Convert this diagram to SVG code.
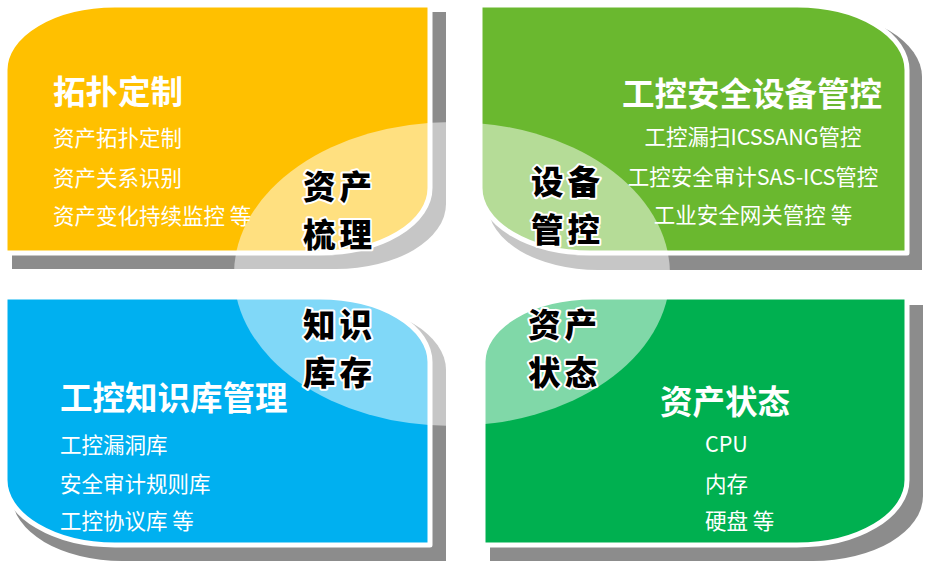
<svg xmlns="http://www.w3.org/2000/svg" width="925" height="562" viewBox="0 0 925 562">
<style>
.sh{fill:#8c8c8c}
.pn{stroke:#ffffff;stroke-width:5;stroke-linejoin:round}
text{font-family:"Noto Sans CJK SC","Microsoft YaHei",sans-serif;dominant-baseline:central}
.tt{fill:#ffffff;font-size:32.5px;font-weight:700}
.it{fill:#ffffff;font-size:21.5px;font-weight:400}
.ov{fill:#000000;font-size:32.5px;letter-spacing:4px;font-weight:900;stroke:#ffffff;stroke-width:4;paint-order:stroke;stroke-linejoin:round}
</style>
<rect width="925" height="562" fill="#ffffff"/>
<g id="panel-topology">
<path class="sh" d="M12,77 A110,65 0 0 1 122,12 L446,12 L446,204 A110,65 0 0 1 336,269 L12,269 Z"/>
<path class="pn" fill="#FFC000" d="M5,70 A110,65 0 0 1 115,5 L430,5 L430,188 A110,65 0 0 1 320,253 L5,253 Z"/>
</g>
<g id="panel-device">
<path class="sh" d="M488,12 L812,12 A110,65 0 0 1 922,77 L922,270 L598,270 A110,65 0 0 1 488,205 Z"/>
<path class="pn" fill="#6AB82F" d="M480,5 L797,5 A110,65 0 0 1 907,70 L907,253 L590,253 A110,65 0 0 1 480,188 Z"/>
</g>
<g id="panel-knowledge">
<path class="sh" d="M12,305 L336,305 A110,65 0 0 1 446,370 L446,561 L122,561 A110,65 0 0 1 12,496 Z"/>
<path class="pn" fill="#00B0F0" d="M5,297 L320,297 A110,65 0 0 1 430,362 L430,545 L115,545 A110,65 0 0 1 5,480 Z"/>
</g>
<g id="panel-status">
<path class="sh" d="M490,370 A110,65 0 0 1 600,305 L923,305 L923,496 A110,65 0 0 1 813,561 L490,561 Z"/>
<path class="pn" fill="#00B050" d="M483,362 A110,65 0 0 1 593,297 L907,297 L907,480 A110,65 0 0 1 797,545 L483,545 Z"/>
</g>
<g id="center-overlay">
<ellipse cx="452" cy="274" rx="218" ry="152" fill="#ffffff" fill-opacity="0.5"/>
</g>
<g id="text-topology">
<text class="tt" x="53" y="89">拓扑定制</text>
<text class="it" x="53" y="136">资产拓扑定制</text>
<text class="it" x="53" y="176">资产关系识别</text>
<text class="it" x="53" y="214">资产变化持续监控 等</text>
<text class="ov" x="303" y="184">资产</text>
<text class="ov" x="303" y="232">梳理</text>
</g>
<g id="text-device">
<text class="tt" x="622" y="91">工控安全设备管控</text>
<text class="it" x="753" y="135" text-anchor="middle">工控漏扫ICSSANG管控</text>
<text class="it" x="753" y="175" text-anchor="middle">工控安全审计SAS-ICS管控</text>
<text class="it" x="753" y="213" text-anchor="middle">工业安全网关管控 等</text>
<text class="ov" x="531" y="179">设备</text>
<text class="ov" x="531" y="227">管控</text>
</g>
<g id="text-knowledge">
<text class="tt" x="60" y="395">工控知识库管理</text>
<text class="it" x="60" y="443">工控漏洞库</text>
<text class="it" x="60" y="482">安全审计规则库</text>
<text class="it" x="60" y="519">工控协议库 等</text>
<text class="ov" x="303" y="322">知识</text>
<text class="ov" x="303" y="370">库存</text>
</g>
<g id="text-status">
<text class="tt" x="660" y="399">资产状态</text>
<text class="it" x="705" y="442">CPU</text>
<text class="it" x="705" y="482">内存</text>
<text class="it" x="705" y="519">硬盘 等</text>
<text class="ov" x="528" y="322">资产</text>
<text class="ov" x="528" y="370">状态</text>
</g>
</svg>
